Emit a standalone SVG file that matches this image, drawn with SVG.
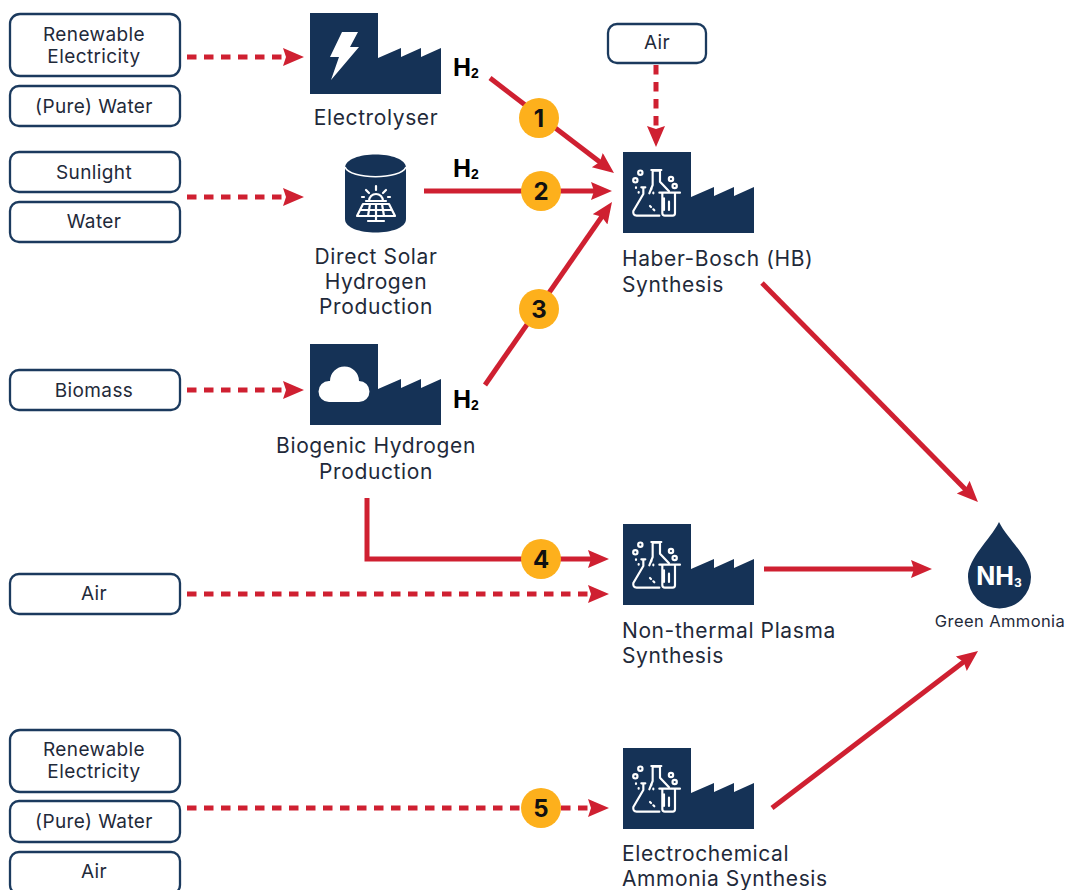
<svg xmlns="http://www.w3.org/2000/svg" xmlns:xlink="http://www.w3.org/1999/xlink" width="1070" height="890" viewBox="0 0 1070 890">
<style>
text{font-family:"Inter","Noto Sans","Liberation Sans",sans-serif;fill:#1f2a3a}
.box{fill:#fff;stroke:#1b3a5e;stroke-width:2.3}
.bt{font-size:19px;text-anchor:middle;letter-spacing:.4px}
.lb{font-size:21px;letter-spacing:.6px}
.c{text-anchor:middle}
.h2{font-family:"Liberation Sans",Arial,sans-serif;font-size:25px;font-weight:700;fill:#000}
.h2 tspan{font-size:14px}
.solid,.dash{fill:none;stroke:#cf2031;stroke-width:5}
.solid{marker-end:url(#ah)}
.dash{stroke-dasharray:9.5 7.5;marker-end:url(#ah)}
.badge{fill:#fdb01c}
.bn{font-family:"Inter","Liberation Sans",sans-serif;font-size:24px;font-weight:700;text-anchor:middle;fill:#111}
.navy{fill:#153256}
.ic{fill:none;stroke:#fff;stroke-width:6.5;stroke-linejoin:round;stroke-linecap:round}
</style>
<defs>
<marker id="ah" markerUnits="userSpaceOnUse" markerWidth="24" markerHeight="20" refX="4" refY="9" orient="auto">
<path d="M0,0 L21,9 L0,18 L3,9Z" fill="#cf2031"/>
</marker>
<path id="factory" class="navy" d="M0,0H68V45L91,35V44L111,35V44L131,35V81H0Z"/>
<g id="flasks" transform="translate(-23,-22) scale(.3333)">
<path class="ic" d="M130,172V192L100,243Q98,257 110,257H178M124,172H136"/>
<path class="ic" d="M148,190L158,165V122H180V155L207,184M154,120H184"/>
<path class="ic" d="M178,188H240M187,190V250Q187,257 195,257H218Q225,257 225,250V190"/>
<path class="ic" d="M192,205V240M207,215V240"/>
<circle class="ic" cx="106" cy="151" r="6.500"/><circle class="ic" cx="121" cy="128" r="6.500"/>
<circle class="ic" cx="213" cy="147" r="6.500"/><circle class="ic" cx="224" cy="168" r="6.500"/>
<path class="ic" d="M108,172v2M116,186v2M154,176v2M160,188v2M150,228l3,3M160,238l3,3"/>
</g>
</defs>

<g id="connectors">
<path class="dash" d="M187,57H287"/>
<path class="dash" d="M187,197H287"/>
<path class="dash" d="M187,390H287"/>
<path class="dash" d="M187,594H592"/>
<path class="dash" d="M187,808H592"/>
<path class="dash" d="M656,65V130"/>
<path class="solid" d="M490,78L600.5,162.6"/>
<path class="solid" d="M424,191H595"/>
<path class="solid" d="M485,385L602.3,216"/>
<path class="solid" d="M367,498V559H592"/>
<path class="solid" d="M764,569H915"/>
<path class="solid" d="M762,283L966,490"/>
<path class="solid" d="M772,808L964.5,661.3"/>
</g>

<g id="in-renewable-1"><rect class="box" x="10" y="14" width="170" height="62" rx="10"/><text class="bt" x="94" y="41">Renewable</text><text class="bt" x="94" y="63">Electricity</text></g>
<g id="in-water-1"><rect class="box" x="10" y="86" width="170" height="40" rx="9"/><text class="bt" x="94" y="113">(Pure) Water</text></g>
<g id="in-sunlight"><rect class="box" x="10" y="152" width="170" height="40" rx="9"/><text class="bt" x="94" y="179">Sunlight</text></g>
<g id="in-water-2"><rect class="box" x="10" y="202" width="170" height="40" rx="9"/><text class="bt" x="94" y="228">Water</text></g>
<g id="in-biomass"><rect class="box" x="10" y="370" width="170" height="40" rx="9"/><text class="bt" x="94" y="397">Biomass</text></g>
<g id="in-air-2"><rect class="box" x="10" y="574" width="170" height="40" rx="9"/><text class="bt" x="94" y="600">Air</text></g>
<g id="in-renewable-2"><rect class="box" x="10" y="730" width="170" height="62" rx="10"/><text class="bt" x="94" y="756">Renewable</text><text class="bt" x="94" y="778">Electricity</text></g>
<g id="in-water-3"><rect class="box" x="10" y="801" width="170" height="41" rx="9"/><text class="bt" x="94" y="828">(Pure) Water</text></g>
<g id="in-air-3"><rect class="box" x="10" y="852" width="170" height="42" rx="9"/><text class="bt" x="94" y="878">Air</text></g>
<g id="in-air-1"><rect class="box" x="608" y="24" width="98" height="39" rx="9"/><text class="bt" x="657" y="49">Air</text></g>

<g id="electrolyser">
<use xlink:href="#factory" href="#factory" x="310" y="13"/>
<path fill="#fff" d="M342,32H358L350,47H359L331,80L339,57H330Z"/>
<text class="lb c" x="376" y="125">Electrolyser</text>
<text class="h2" x="453" y="76">H<tspan dy="2">2</tspan></text>
</g>

<g id="solar">
<path class="navy" d="M345,168C345,150 406,150 406,168V219C406,237 345,237 345,219Z"/>
<path d="M345,167C350,180 401,180 406,167" fill="none" stroke="#fff" stroke-width="1.6"/>
<g fill="none" stroke="#fff" stroke-width="2.200" stroke-linecap="round" stroke-linejoin="round">
<path d="M369,201A7,7 0 0 1 383,201M366,201H386M376,186V190M366,190L369,193M386,190L383,193M362,197H364M388,197H390"/>
<path d="M363,204H389L395,216H357ZM360,210H392M370,204L368,216M376,204V216M382,204L384,216M376,216V221M368,221H384"/>
</g>
<text class="lb c" x="376" y="264">Direct Solar</text>
<text class="lb c" x="376" y="289">Hydrogen</text>
<text class="lb c" x="376" y="314">Production</text>
<text class="h2" x="453" y="177">H<tspan dy="2">2</tspan></text>
</g>

<g id="biogenic">
<use xlink:href="#factory" href="#factory" x="310" y="344"/>
<path fill="#fff" d="M329,402A10.500,10.500 0 0 1 329,381H330A14.500,14.500 0 0 1 359,381A10.500,10.500 0 0 1 359,402Z"/>
<text class="lb c" x="376" y="453">Biogenic Hydrogen</text>
<text class="lb c" x="376" y="479">Production</text>
<text class="h2" x="453" y="408">H<tspan dy="2">2</tspan></text>
</g>

<g id="haber-bosch">
<use xlink:href="#factory" href="#factory" x="623" y="152"/>
<use xlink:href="#flasks" href="#flasks" x="623" y="152"/>
<text class="lb" x="622" y="266">Haber-Bosch (HB)</text>
<text class="lb" x="622" y="292">Synthesis</text>
</g>

<g id="plasma">
<use xlink:href="#factory" href="#factory" x="623" y="524"/>
<use xlink:href="#flasks" href="#flasks" x="623" y="524"/>
<text class="lb" x="622" y="638">Non-thermal Plasma</text>
<text class="lb" x="622" y="663">Synthesis</text>
</g>

<g id="electrochemical">
<use xlink:href="#factory" href="#factory" x="623" y="748"/>
<use xlink:href="#flasks" href="#flasks" x="623" y="748"/>
<text class="lb" x="622" y="861">Electrochemical</text>
<text class="lb" x="622" y="886">Ammonia Synthesis</text>
</g>

<g id="green-ammonia">
<path class="navy" d="M999,522C990,540 968,558 968,577A31,31 0 0 0 1031,577C1031,558 1008,540 999,522Z"/>
<text x="999" y="585" text-anchor="middle" font-size="25" font-weight="700" style="fill:#fff">NH<tspan font-size="12" dy="2">3</tspan></text>
<text x="1000" y="627" text-anchor="middle" font-size="16.500" style="letter-spacing:.4px">Green Ammonia</text>
</g>

<g id="badge-1"><circle class="badge" cx="539" cy="118" r="20"/><text class="bn" x="539" y="127">1</text></g>
<g id="badge-2"><circle class="badge" cx="541" cy="191" r="20"/><text class="bn" x="541" y="200">2</text></g>
<g id="badge-3"><circle class="badge" cx="539" cy="309" r="20"/><text class="bn" x="539" y="318">3</text></g>
<g id="badge-4"><circle class="badge" cx="541" cy="559" r="20"/><text class="bn" x="541" y="568">4</text></g>
<g id="badge-5"><circle class="badge" cx="541" cy="808" r="20"/><text class="bn" x="541" y="817">5</text></g>
</svg>
